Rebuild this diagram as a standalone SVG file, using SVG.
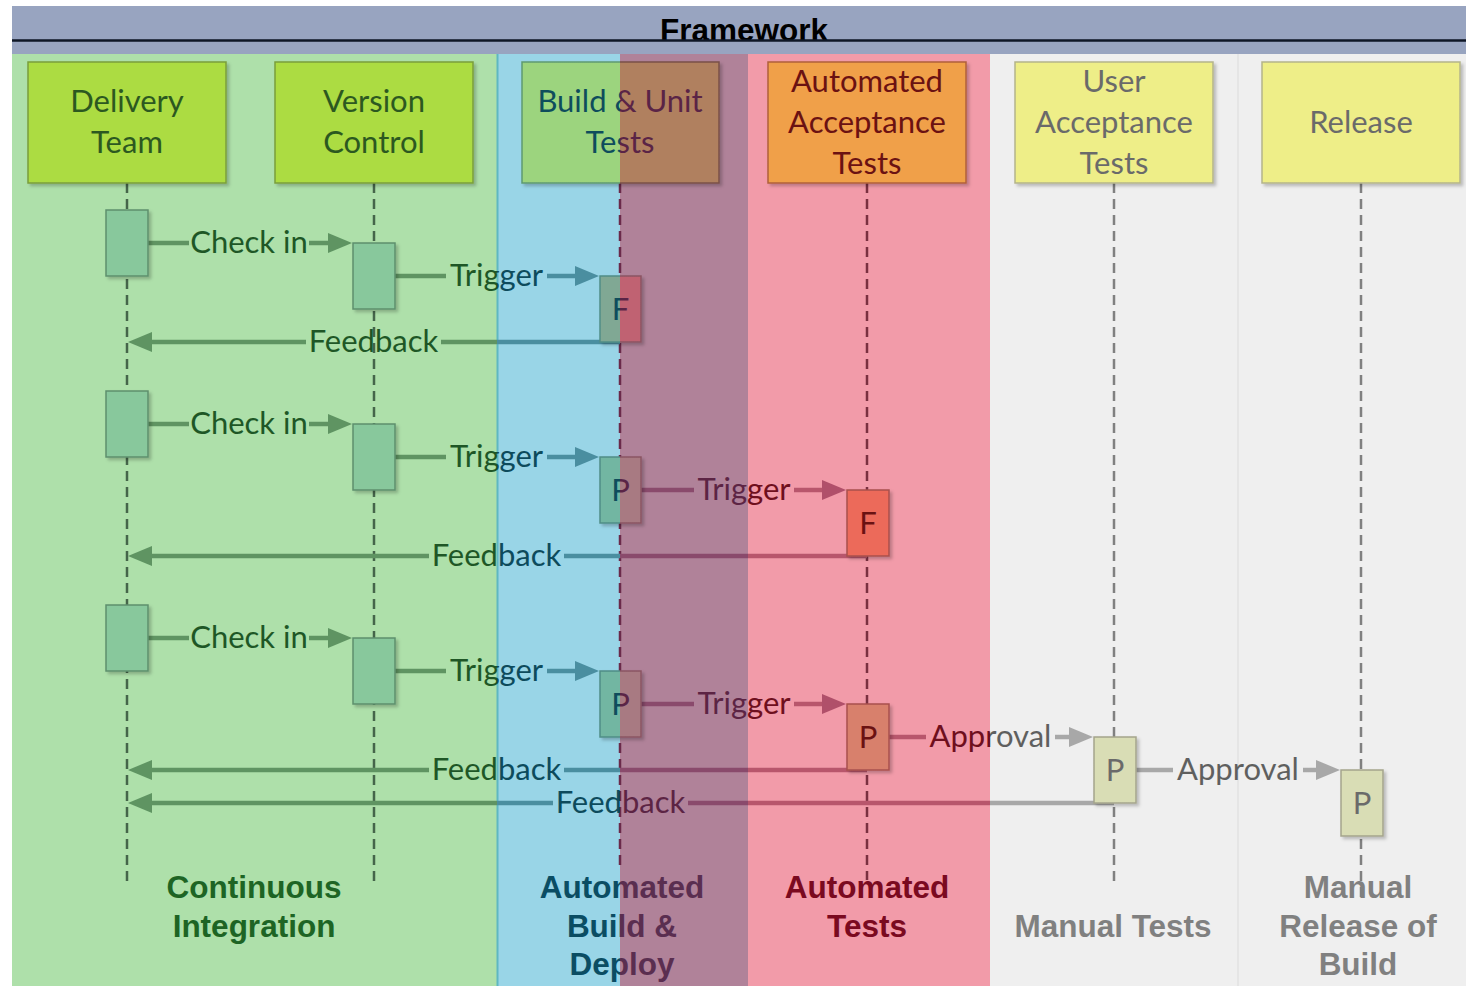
<svg xmlns="http://www.w3.org/2000/svg" width="1466" height="986" viewBox="0 0 1466 986">
  <defs>
    <style>
      .lbl { font-family: Lato, "Open Sans", sans-serif; font-size: 31px; text-anchor: middle; fill: url(#gText); }
      .ntx { font-family: Lato, "Open Sans", sans-serif; font-size: 31px; text-anchor: middle; fill: url(#gNodeText); }
      .btx { font-family: Lato, "Open Sans", sans-serif; font-size: 31px; text-anchor: middle; fill: url(#gNodeText); }
      .zone { font-family: "Liberation Sans", Arial, sans-serif; font-weight: bold; font-size: 31.5px; text-anchor: middle; fill: url(#gBold); }
      .node { fill: url(#gNodeFill); stroke: url(#gNodeStroke); stroke-width: 1.5; filter: url(#shadow); }
      .act { fill: url(#gBox); stroke: url(#gBoxStroke); stroke-width: 1.5; filter: url(#shadow); }
      .actF { fill: url(#gBoxF); stroke: url(#gBoxStroke); stroke-width: 1.5; filter: url(#shadow); }
      .life { fill: none; stroke-width: 2.5; stroke-dasharray: 10 6; }
      .msg { fill: none; stroke: url(#gLine); stroke-width: 4.5; }
    </style>
    <filter id="shadow" x="-20%" y="-20%" width="150%" height="150%">
      <feDropShadow dx="2.5" dy="2.5" stdDeviation="1.5" flood-color="#000" flood-opacity="0.22"/>
    </filter>
    <!-- band palettes: green | blue | purple | pink | grey, split at x = 497, 620, 748, 990 -->
    <linearGradient id="gText" gradientUnits="userSpaceOnUse" x1="0" y1="0" x2="1466" y2="0">
      <stop offset="0.33902" stop-color="#1f5626"/><stop offset="0.33902" stop-color="#0e4a5c"/>
      <stop offset="0.42292" stop-color="#0e4a5c"/><stop offset="0.42292" stop-color="#5c2444"/>
      <stop offset="0.51023" stop-color="#5c2444"/><stop offset="0.51023" stop-color="#6e0f1e"/>
      <stop offset="0.67531" stop-color="#6e0f1e"/><stop offset="0.67531" stop-color="#5f5f5f"/>
    </linearGradient>
    <linearGradient id="gNodeText" gradientUnits="userSpaceOnUse" x1="0" y1="0" x2="1466" y2="0">
      <stop offset="0.33902" stop-color="#2c5820"/><stop offset="0.33902" stop-color="#0f4c5c"/>
      <stop offset="0.42292" stop-color="#0f4c5c"/><stop offset="0.42292" stop-color="#5a2446"/>
      <stop offset="0.51023" stop-color="#5a2446"/><stop offset="0.51023" stop-color="#6a1212"/>
      <stop offset="0.67531" stop-color="#6a1212"/><stop offset="0.67531" stop-color="#6a6a6a"/>
    </linearGradient>
    <linearGradient id="gBold" gradientUnits="userSpaceOnUse" x1="0" y1="0" x2="1466" y2="0">
      <stop offset="0.33902" stop-color="#1e6424"/><stop offset="0.33902" stop-color="#0b4d63"/>
      <stop offset="0.42292" stop-color="#0b4d63"/><stop offset="0.42292" stop-color="#5a2e50"/>
      <stop offset="0.51023" stop-color="#5a2e50"/><stop offset="0.51023" stop-color="#7a0a20"/>
      <stop offset="0.67531" stop-color="#7a0a20"/><stop offset="0.67531" stop-color="#808080"/>
    </linearGradient>
    <linearGradient id="gLine" gradientUnits="userSpaceOnUse" x1="0" y1="0" x2="1466" y2="0">
      <stop offset="0.33902" stop-color="#5f9462"/><stop offset="0.33902" stop-color="#4a8ea0"/>
      <stop offset="0.42292" stop-color="#4a8ea0"/><stop offset="0.42292" stop-color="#8a4a6c"/>
      <stop offset="0.51023" stop-color="#8a4a6c"/><stop offset="0.51023" stop-color="#b8566c"/>
      <stop offset="0.67531" stop-color="#b8566c"/><stop offset="0.67531" stop-color="#a8a8a8"/>
    </linearGradient>
    <linearGradient id="gNodeFill" gradientUnits="userSpaceOnUse" x1="0" y1="0" x2="1466" y2="0">
      <stop offset="0.33902" stop-color="#acdc42"/><stop offset="0.33902" stop-color="#9cd47e"/>
      <stop offset="0.42292" stop-color="#9cd47e"/><stop offset="0.42292" stop-color="#b0805e"/>
      <stop offset="0.51023" stop-color="#b0805e"/><stop offset="0.51023" stop-color="#f0a04a"/>
      <stop offset="0.67531" stop-color="#f0a04a"/><stop offset="0.67531" stop-color="#eeee88"/>
    </linearGradient>
    <linearGradient id="gNodeStroke" gradientUnits="userSpaceOnUse" x1="0" y1="0" x2="1466" y2="0">
      <stop offset="0.33902" stop-color="#7a9e3a"/><stop offset="0.33902" stop-color="#5e9a70"/>
      <stop offset="0.42292" stop-color="#5e9a70"/><stop offset="0.42292" stop-color="#7a5048"/>
      <stop offset="0.51023" stop-color="#7a5048"/><stop offset="0.51023" stop-color="#b0603a"/>
      <stop offset="0.67531" stop-color="#b0603a"/><stop offset="0.67531" stop-color="#b4b48a"/>
    </linearGradient>
    <linearGradient id="gBox" gradientUnits="userSpaceOnUse" x1="0" y1="0" x2="1466" y2="0">
      <stop offset="0.33902" stop-color="#88c89c"/><stop offset="0.33902" stop-color="#72b6a2"/>
      <stop offset="0.42292" stop-color="#72b6a2"/><stop offset="0.42292" stop-color="#a87a82"/>
      <stop offset="0.51023" stop-color="#a87a82"/><stop offset="0.51023" stop-color="#d8806c"/>
      <stop offset="0.67531" stop-color="#d8806c"/><stop offset="0.67531" stop-color="#d9ddb5"/>
    </linearGradient>
    <linearGradient id="gBoxF" gradientUnits="userSpaceOnUse" x1="0" y1="0" x2="1466" y2="0">
      <stop offset="0.33902" stop-color="#88c89c"/><stop offset="0.33902" stop-color="#80a894"/>
      <stop offset="0.42292" stop-color="#80a894"/><stop offset="0.42292" stop-color="#c06272"/>
      <stop offset="0.51023" stop-color="#c06272"/><stop offset="0.51023" stop-color="#ec6a5a"/>
      <stop offset="0.67531" stop-color="#ec6a5a"/><stop offset="0.67531" stop-color="#d9ddb5"/>
    </linearGradient>
    <linearGradient id="gBoxStroke" gradientUnits="userSpaceOnUse" x1="0" y1="0" x2="1466" y2="0">
      <stop offset="0.33902" stop-color="#5d8f6c"/><stop offset="0.33902" stop-color="#4f8d86"/>
      <stop offset="0.42292" stop-color="#4f8d86"/><stop offset="0.42292" stop-color="#8a5462"/>
      <stop offset="0.51023" stop-color="#8a5462"/><stop offset="0.51023" stop-color="#a8504c"/>
      <stop offset="0.67531" stop-color="#a8504c"/><stop offset="0.67531" stop-color="#a4a48c"/>
    </linearGradient>
    <marker id="hGreen" viewBox="0 0 24 20" refX="12" refY="10" markerWidth="24" markerHeight="20" markerUnits="userSpaceOnUse" orient="auto">
      <path d="M0,0 L24,10 L0,20 z" fill="#5f9462"/>
    </marker>
    <marker id="hBlue" viewBox="0 0 24 20" refX="12" refY="10" markerWidth="24" markerHeight="20" markerUnits="userSpaceOnUse" orient="auto">
      <path d="M0,0 L24,10 L0,20 z" fill="#4a8ea0"/>
    </marker>
    <marker id="hPink" viewBox="0 0 24 20" refX="12" refY="10" markerWidth="24" markerHeight="20" markerUnits="userSpaceOnUse" orient="auto">
      <path d="M0,0 L24,10 L0,20 z" fill="#b0506a"/>
    </marker>
    <marker id="hGrey" viewBox="0 0 24 20" refX="12" refY="10" markerWidth="24" markerHeight="20" markerUnits="userSpaceOnUse" orient="auto">
      <path d="M0,0 L24,10 L0,20 z" fill="#a8a8a8"/>
    </marker>
  </defs>

  <rect width="1466" height="986" fill="#ffffff"/>

  <!-- swimlane bands -->
  <g id="bands">
    <rect x="12" y="54" width="485" height="932" fill="#aee0aa"/>
    <rect x="497" y="54" width="123" height="932" fill="#99d5e7"/>
    <rect x="620" y="54" width="128" height="932" fill="#b08299"/>
    <rect x="748" y="54" width="242" height="932" fill="#f29ba9"/>
    <rect x="990" y="54" width="476" height="932" fill="#efefef"/>
    <line x1="497.5" y1="54" x2="497.5" y2="986" stroke="#5fb7c2" stroke-width="2"/>
    <line x1="1238" y1="54" x2="1238" y2="986" stroke="#e2e2e2" stroke-width="1.5"/>
  </g>

  <!-- title bar -->
  <g id="header">
    <rect x="12" y="6" width="1454" height="48" fill="#98a4c0"/>
    <text x="744" y="41" font-family="'Liberation Sans', Arial, sans-serif" font-weight="bold" font-size="31.5" text-anchor="middle" fill="#000000">Framework</text>
    <line x1="12" y1="40.5" x2="1466" y2="40.5" stroke="#0e1626" stroke-width="2.5"/>
  </g>

  <!-- lifelines -->
  <g id="lifelines">
    <line class="life" x1="127" y1="183" x2="127" y2="885" stroke="#45654a"/>
    <line class="life" x1="374" y1="183" x2="374" y2="885" stroke="#45654a"/>
    <line class="life" x1="620" y1="183" x2="620" y2="870" stroke="#6a2a4a"/>
    <line class="life" x1="867" y1="183" x2="867" y2="880" stroke="#7a3040"/>
    <line class="life" x1="1114" y1="183" x2="1114" y2="885" stroke="#808080"/>
    <line class="life" x1="1361" y1="183" x2="1361" y2="897" stroke="#808080"/>
  </g>

  <!-- messages -->
  <g id="connectors">
    <!-- cycle 1 -->
    <path class="msg" d="M148,243 H189"/><path class="msg" d="M309,243 H340" marker-end="url(#hGreen)"/>
    <text class="lbl" x="249" y="253">Check in</text>
    <path class="msg" d="M395,276 H446"/><path class="msg" d="M547,276 H587" marker-end="url(#hBlue)"/>
    <text class="lbl" x="496.5" y="286">Trigger</text>
    <path class="msg" d="M620,342 H441"/><path class="msg" d="M306,342 H140" marker-end="url(#hGreen)"/>
    <text class="lbl" x="373.5" y="352">Feedback</text>

    <!-- cycle 2 -->
    <path class="msg" d="M148,424 H189"/><path class="msg" d="M309,424 H340" marker-end="url(#hGreen)"/>
    <text class="lbl" x="249" y="434">Check in</text>
    <path class="msg" d="M395,457 H446"/><path class="msg" d="M547,457 H587" marker-end="url(#hBlue)"/>
    <text class="lbl" x="496.5" y="467">Trigger</text>
    <path class="msg" d="M641,490 H694"/><path class="msg" d="M794,490 H834" marker-end="url(#hPink)"/>
    <text class="lbl" x="744" y="500">Trigger</text>
    <path class="msg" d="M867,556 H564"/><path class="msg" d="M429,556 H140" marker-end="url(#hGreen)"/>
    <text class="lbl" x="496.5" y="566">Feedback</text>

    <!-- cycle 3 -->
    <path class="msg" d="M148,638 H189"/><path class="msg" d="M309,638 H340" marker-end="url(#hGreen)"/>
    <text class="lbl" x="249" y="648">Check in</text>
    <path class="msg" d="M395,671 H446"/><path class="msg" d="M547,671 H587" marker-end="url(#hBlue)"/>
    <text class="lbl" x="496.5" y="681">Trigger</text>
    <path class="msg" d="M641,704 H694"/><path class="msg" d="M794,704 H834" marker-end="url(#hPink)"/>
    <text class="lbl" x="744" y="714">Trigger</text>
    <path class="msg" d="M889,737 H926"/><path class="msg" d="M1055,737 H1081" marker-end="url(#hGrey)"/>
    <text class="lbl" x="990.5" y="747">Approval</text>
    <path class="msg" d="M1136,770 H1173"/><path class="msg" d="M1303,770 H1328" marker-end="url(#hGrey)"/>
    <text class="lbl" x="1238" y="780">Approval</text>
    <path class="msg" d="M867,770 H564"/><path class="msg" d="M429,770 H140" marker-end="url(#hGreen)"/>
    <text class="lbl" x="496.5" y="780">Feedback</text>
    <path class="msg" d="M1114,803 H688"/><path class="msg" d="M553,803 H140" marker-end="url(#hGreen)"/>
    <text class="lbl" x="620.5" y="813">Feedback</text>
  </g>

  <!-- activation bars -->
  <g id="act-dev-1"><rect class="act" x="106" y="210" width="42" height="66"/></g>
  <g id="act-vcs-1"><rect class="act" x="353" y="243" width="42" height="66"/></g>
  <g id="act-build-1"><rect class="actF" x="600" y="276" width="41" height="66"/><text class="btx" x="620.5" y="320">F</text></g>

  <g id="act-dev-2"><rect class="act" x="106" y="391" width="42" height="66"/></g>
  <g id="act-vcs-2"><rect class="act" x="353" y="424" width="42" height="66"/></g>
  <g id="act-build-2"><rect class="act" x="600" y="457" width="41" height="66"/><text class="btx" x="620.5" y="501">P</text></g>
  <g id="act-aat-2"><rect class="actF" x="847" y="490" width="42" height="66"/><text class="btx" x="868" y="534">F</text></g>

  <g id="act-dev-3"><rect class="act" x="106" y="605" width="42" height="66"/></g>
  <g id="act-vcs-3"><rect class="act" x="353" y="638" width="42" height="66"/></g>
  <g id="act-build-3"><rect class="act" x="600" y="671" width="41" height="66"/><text class="btx" x="620.5" y="715">P</text></g>
  <g id="act-aat-3"><rect class="act" x="847" y="704" width="42" height="66"/><text class="btx" x="868" y="748">P</text></g>
  <g id="act-uat-3"><rect class="act" x="1094" y="737" width="42" height="66"/><text class="btx" x="1115" y="781">P</text></g>
  <g id="act-release-3"><rect class="act" x="1341" y="770" width="42" height="66"/><text class="btx" x="1362" y="814">P</text></g>

  <!-- participants -->
  <g id="node-delivery-team">
    <rect class="node" x="28" y="62" width="198" height="121"/>
    <text class="ntx" x="127" y="112">Delivery</text>
    <text class="ntx" x="127" y="153">Team</text>
  </g>
  <g id="node-version-control">
    <rect class="node" x="275" y="62" width="198" height="121"/>
    <text class="ntx" x="374" y="112">Version</text>
    <text class="ntx" x="374" y="153">Control</text>
  </g>
  <g id="node-build-unit-tests">
    <rect class="node" x="522" y="62" width="197" height="121"/>
    <text class="ntx" x="620" y="112">Build &amp; Unit</text>
    <text class="ntx" x="620" y="153">Tests</text>
  </g>
  <g id="node-automated-acceptance-tests">
    <rect class="node" x="768" y="62" width="198" height="121"/>
    <text class="ntx" x="867" y="92">Automated</text>
    <text class="ntx" x="867" y="133">Acceptance</text>
    <text class="ntx" x="867" y="174">Tests</text>
  </g>
  <g id="node-user-acceptance-tests">
    <rect class="node" x="1015" y="62" width="198" height="121"/>
    <text class="ntx" x="1114" y="92">User</text>
    <text class="ntx" x="1114" y="133">Acceptance</text>
    <text class="ntx" x="1114" y="174">Tests</text>
  </g>
  <g id="node-release">
    <rect class="node" x="1262" y="62" width="198" height="121"/>
    <text class="ntx" x="1361" y="133">Release</text>
  </g>

  <!-- lane captions -->
  <g id="lane-labels">
    <text class="zone" x="254" y="898">Continuous</text>
    <text class="zone" x="254" y="937">Integration</text>
    <text class="zone" x="622" y="898">Automated</text>
    <text class="zone" x="622" y="937">Build &amp;</text>
    <text class="zone" x="622" y="975">Deploy</text>
    <text class="zone" x="867" y="898">Automated</text>
    <text class="zone" x="867" y="937">Tests</text>
    <text class="zone" x="1113" y="937">Manual Tests</text>
    <text class="zone" x="1358" y="898">Manual</text>
    <text class="zone" x="1358" y="937">Release of</text>
    <text class="zone" x="1358" y="975">Build</text>
  </g>
</svg>
